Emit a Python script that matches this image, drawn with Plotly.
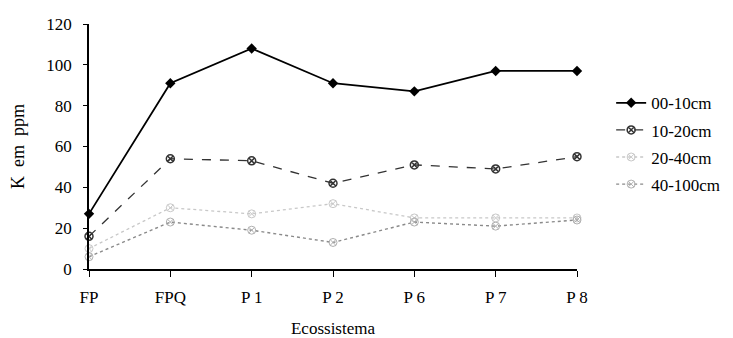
import plotly.graph_objects as go

categories = ["FP", "FPQ", "P 1", "P 2", "P 6", "P 7", "P 8"]
s_00_10 = [27, 91, 108, 91, 87, 97, 97]
s_10_20 = [16, 54, 53, 42, 51, 49, 55]
s_20_40 = [10, 30, 27, 32, 25, 25, 25]
s_40_100 = [6, 23, 19, 13, 23, 21, 24]
series_names = ["00-10cm", "10-20cm", "20-40cm", "40-100cm"]
y_ticks = [0, 20, 40, 60, 80, 100, 120]

FONT = "Liberation Serif, Times New Roman, serif"

fig = go.Figure()
styles = [
    dict(line=dict(color="black", width=1.8, dash="solid"),
         marker=dict(symbol="diamond", size=8, color="black")),
    dict(line=dict(color="#333333", width=1.3, dash="dash"),
         marker=dict(symbol="circle-x-open", size=8, color="#333333", line=dict(width=1.5))),
    dict(line=dict(color="#c8c8c8", width=1.3, dash="dot"),
         marker=dict(symbol="circle-x-open", size=8, color="#c8c8c8", line=dict(width=1))),
    dict(line=dict(color="#8a8a8a", width=1.4, dash="dot"),
         marker=dict(symbol="circle-x-open", size=8, color="#b0b0b0", line=dict(width=1))),
]
for i, (name, vals, st) in enumerate(zip(series_names, [s_00_10, s_10_20, s_20_40, s_40_100], styles)):
    fig.add_trace(go.Scatter(x=categories, y=vals, name=name, mode="lines+markers",
                             legendgroup=f"g{i}", cliponaxis=False, **st))

fig.update_layout(
    width=725, height=330,
    margin=dict(l=81, r=156, t=16, b=69, autoexpand=False),
    paper_bgcolor="white", plot_bgcolor="white",
    font=dict(family=FONT, size=17, color="black"),
    showlegend=True,
    legend=dict(x=1.07, y=0.75, xanchor="left", yanchor="top",
                font=dict(family=FONT, size=17), tracegroupgap=2,
                itemwidth=30, bgcolor="rgba(0,0,0,0)"),
    xaxis=dict(type="category", range=[0, 6], showgrid=False, zeroline=False,
               automargin=False,
               showline=True, linecolor="black", linewidth=1.5,
               ticks="outside", ticklen=6, tickcolor="black", tickwidth=1,
               ticklabelstandoff=6,
               tickfont=dict(family=FONT, size=17),
               title=dict(text="Ecossistema", font=dict(family=FONT, size=17), standoff=16)),
    yaxis=dict(range=[0, 120], tickvals=y_ticks, showgrid=False, zeroline=False,
               automargin=False,
               showline=True, linecolor="black", linewidth=1.5,
               ticks="outside", ticklen=4, tickcolor="black",
               ticklabelstandoff=8,
               tickfont=dict(family=FONT, size=17),
               title=dict(text="K  em  ppm", font=dict(family=FONT, size=18), standoff=17)),
)

fig.write_html("out.html")
